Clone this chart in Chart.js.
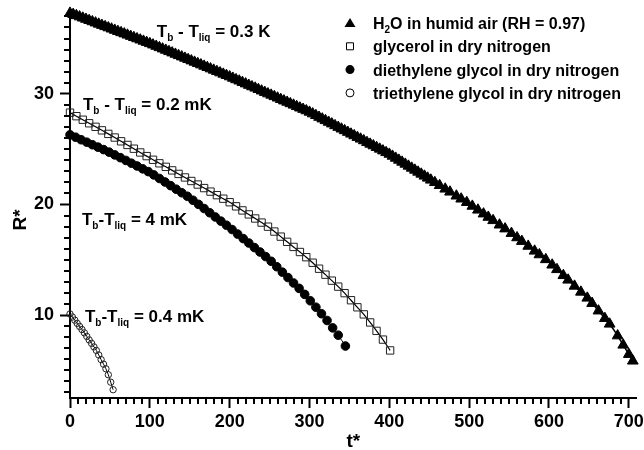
<!DOCTYPE html>
<html>
<head>
<meta charset="utf-8">
<script src="https://cdn.jsdelivr.net/npm/chart.js@4.4.1/dist/chart.umd.min.js"></script>
<style>
  html, body { margin: 0; padding: 0; background: #fff; }
</style>
</head>
<body>
<canvas id="myChart" width="644" height="450"></canvas>
<script>
// series names (legend)
const seriesNames = [
    "H_{2}O in humid air (RH = 0.97)",
    "glycerol in dry nitrogen",
    "diethylene glycol in dry nitrogen",
    "triethylene glycol in dry nitrogen",
];

// H2O in humid air
const h2oT = [0, 4, 8, 12, 16, 20, 24, 28, 32, 36, 40, 44, 48, 52, 56, 60, 64, 68, 72, 76, 80, 84, 88, 92, 96, 100,
    104, 108, 112, 116, 120, 124, 128, 132, 136, 140, 144, 148, 152, 156, 160, 164, 168, 172, 176, 180, 184, 188, 192, 196, 200,
    204, 208, 212, 216, 220, 224, 228, 232, 236, 240, 244, 248, 252, 256, 260, 264, 268, 272, 276, 280, 284, 288, 292, 296, 300,
    304, 308, 312, 316, 320, 324, 328, 332, 336, 340, 344, 348, 352, 356, 360, 364, 368, 372, 376, 380, 384, 388, 392, 396, 400,
    404, 408, 412, 416, 420, 424, 428, 432, 436, 440, 444, 448, 452,
    457, 463, 470, 476, 484, 490, 497, 504, 511, 518, 524, 530, 538, 545,
    553, 560, 566, 574, 582, 588, 596, 604, 610, 618, 624, 632, 640, 648,
    654, 662, 670, 676, 686, 693, 700, 705];
const h2oR = [37.30, 37.19, 37.08, 36.97, 36.86, 36.75, 36.64, 36.53, 36.42, 36.31, 36.20, 36.09, 35.98, 35.87, 35.76,
    35.65, 35.54, 35.43, 35.32, 35.21, 35.10, 34.99, 34.88, 34.77, 34.66, 34.55,
    34.43, 34.31, 34.19, 34.07, 33.95, 33.83, 33.71, 33.59, 33.47, 33.35, 33.23, 33.11, 32.99, 32.87, 32.75,
    32.63, 32.51, 32.39, 32.27, 32.15, 32.03, 31.91, 31.79, 31.67, 31.55,
    31.42, 31.29, 31.17, 31.04, 30.91, 30.78, 30.65, 30.53, 30.40, 30.27, 30.14, 30.01, 29.89, 29.76, 29.63,
    29.50, 29.37, 29.25, 29.12, 28.99, 28.86, 28.73, 28.61, 28.48, 28.35,
    28.20, 28.05, 27.89, 27.74, 27.59, 27.44, 27.29, 27.13, 26.98, 26.83, 26.68, 26.53, 26.37, 26.22, 26.07,
    25.92, 25.77, 25.61, 25.46, 25.31, 25.16, 25.01, 24.85, 24.70, 24.55,
    24.37, 24.19, 24.01, 23.83, 23.65, 23.47, 23.29, 23.11, 22.93, 22.75, 22.57, 22.39, 22.21,
    21.99, 21.72, 21.40, 21.13, 20.77, 20.50, 20.19, 19.85, 19.50, 19.15, 18.85, 18.55, 18.15, 17.80,
    17.39, 17.00, 16.67, 16.23, 15.79, 15.46, 15.02, 14.53, 14.12, 13.58, 13.17, 12.62, 12.08, 11.54,
    11.06, 10.38, 9.70, 9.19, 8.13, 7.29, 6.45, 5.85];

// glycerol in dry nitrogen
const glyT = [0, 8, 16, 24, 32, 40, 48, 56, 64, 72, 80, 88, 96, 104, 112, 120, 128, 136, 144, 152,
    160, 168, 176, 184, 192, 200, 208, 216, 224, 232, 240, 248, 256, 264, 272, 280, 288, 296,
    304, 312, 320, 328, 336, 344, 352, 360, 368, 376, 384, 392, 401];
const glyR = [28.30, 27.98, 27.66, 27.34, 27.02, 26.70, 26.38, 26.05, 25.71, 25.38, 25.04, 24.70, 24.37,
    24.04, 23.72, 23.40, 23.08, 22.76, 22.44, 22.12, 21.80, 21.48, 21.16, 20.84, 20.52, 20.20,
    19.83, 19.46, 19.10, 18.73, 18.36, 17.99, 17.55, 17.09, 16.62, 16.16, 15.70, 15.23,
    14.73, 14.19, 13.65, 13.11, 12.57, 11.98, 11.34, 10.70, 10.06, 9.33, 8.57, 7.78, 6.80];

// diethylene glycol in dry nitrogen
const degT = [0, 7, 14, 21, 28, 35, 42, 49, 56, 63, 70, 77, 84, 91, 98, 105, 112, 119, 126, 133,
    140, 147, 154, 161, 168, 175, 182, 189, 196, 203, 210, 217, 224, 231, 238, 245, 252, 259,
    266, 273, 280, 287, 294, 301, 308, 315, 322, 329, 336, 345];
const degR = [26.30, 26.08, 25.85, 25.63, 25.40, 25.18, 24.96, 24.73, 24.48, 24.23, 23.98, 23.73, 23.48,
    23.22, 22.97, 22.67, 22.35, 22.03, 21.70, 21.38, 21.06, 20.74, 20.38, 20.01, 19.63, 19.25,
    18.87, 18.49, 18.12, 17.73, 17.32, 16.91, 16.51, 16.10, 15.70, 15.29, 14.86, 14.37, 13.88,
    13.39, 12.90, 12.41, 11.87, 11.29, 10.71, 10.12, 9.51, 8.84, 8.18, 7.20];

// triethylene glycol in dry nitrogen
const tegT = [0, 3, 6, 9, 12, 15, 18, 21, 24, 27, 30, 33, 36, 39, 42, 45, 48, 51, 54];
const tegR = [10.10, 9.82, 9.54, 9.25, 8.97, 8.69, 8.39, 8.07, 7.75, 7.44, 7.12, 6.80, 6.39, 5.97,
    5.56, 5.14, 4.60, 3.93, 3.25];

// axis ticks
const xTicks = [0, 100, 200, 300, 400, 500, 600, 700];
const yTicks = [10, 20, 30];

// text labels in the plot, anchored at data coordinates (left / baseline)
const notes = [
    { text: "T_{b} - T_{liq} = 0.3 K", t: 108.75, r: 35.16 },
    { text: "T_{b} - T_{liq} = 0.2 mK", t: 16.25, r: 28.55 },
    { text: "T_{b}-T_{liq} = 4 mK", t: 15, r: 18.14 },
    { text: "T_{b}-T_{liq} = 0.4 mK", t: 18.75, r: 9.37 },
];

const FONT = '"Liberation Sans", Arial, Helvetica, sans-serif';

function toPoints(ts, rs) {
    return ts.map((t, i) => ({ x: t, y: rs[i] }));
}

// text with _{..} parts drawn as subscripts
function drawRich(ctx, str, x, y, size, subSize) {
    const parts = str.split(/_\{([^}]*)\}/);
    let cx = x;
    parts.forEach((p, i) => {
        const sub = i % 2 === 1;
        ctx.font = "bold " + (sub ? subSize : size) + "px " + FONT;
        ctx.fillText(p, cx, sub ? y + 4 : y);
        cx += ctx.measureText(p).width;
    });
}

function legendMarker(ctx, kind, x, y) {
    ctx.beginPath();
    if (kind === 0) {
        ctx.moveTo(x, y - 5);
        ctx.lineTo(x + 5.5, y + 4);
        ctx.lineTo(x - 5.5, y + 4);
        ctx.closePath();
        ctx.fill();
    } else if (kind === 1) {
        ctx.rect(x - 3.5, y - 3.5, 7, 7);
        ctx.stroke();
    } else if (kind === 2) {
        ctx.arc(x, y, 4.5, 0, Math.PI * 2);
        ctx.fill();
    } else {
        ctx.arc(x, y, 4, 0, Math.PI * 2);
        ctx.stroke();
    }
}

const extras = {
    id: "extras",
    afterDraw(chart) {
        const ctx = chart.ctx;
        const xs = chart.scales.x;
        const ys = chart.scales.y;
        const area = chart.chartArea;
        ctx.save();
        ctx.strokeStyle = "#000";
        ctx.fillStyle = "#000";

        // minor ticks
        ctx.lineWidth = 2;
        ctx.beginPath();
        for (let v = 10; v < 710; v += 10) {
            if (v % 100 === 0) continue;
            const px = Math.round(xs.getPixelForValue(v));
            ctx.moveTo(px, area.bottom);
            ctx.lineTo(px, area.bottom + 6);
        }
        for (let v = 3; v < 38; v++) {
            if (v % 10 === 0) continue;
            const py = Math.round(ys.getPixelForValue(v));
            ctx.moveTo(area.left, py);
            ctx.lineTo(area.left - 6, py);
        }
        ctx.stroke();

        // axis titles
        ctx.textAlign = "center";
        ctx.textBaseline = "alphabetic";
        ctx.font = "bold 19px " + FONT;
        ctx.fillText("t*", (area.left + area.right) / 2, 447);
        ctx.save();
        ctx.translate(26, 220);
        ctx.rotate(-Math.PI / 2);
        ctx.fillText("R*", 0, 0);
        ctx.restore();

        // notes
        ctx.textAlign = "left";
        notes.forEach((n) => {
            drawRich(ctx, n.text, xs.getPixelForValue(n.t), ys.getPixelForValue(n.r), 17, 10);
        });

        // legend
        ctx.lineWidth = 1;
        seriesNames.forEach((name, i) => {
            const base = 29 + i * 23.3;
            legendMarker(ctx, i, 350, base - 6);
            drawRich(ctx, name, 373, base, 16, 10);
        });
        ctx.restore();
    },
};

const tickFont = { family: FONT, size: 18, weight: "bold" };

const ctx = document.getElementById("myChart");
new Chart(ctx, {
    type: "scatter",
    data: {
        datasets: [
            {
                label: seriesNames[0],
                data: toPoints(h2oT, h2oR),
                showLine: true,
                borderColor: "#000",
                borderWidth: 1.5,
                pointStyle: "triangle",
                pointRadius: 6.2,
                pointBackgroundColor: "#000",
                pointBorderColor: "#000",
                pointBorderWidth: 1,
            },
            {
                label: seriesNames[1],
                data: toPoints(glyT, glyR),
                showLine: true,
                borderColor: "#000",
                borderWidth: 1.2,
                pointStyle: "rect",
                pointRadius: 5.2,
                pointBackgroundColor: "rgba(0,0,0,0)",
                pointBorderColor: "#222",
                pointBorderWidth: 1,
            },
            {
                label: seriesNames[2],
                data: toPoints(degT, degR),
                showLine: true,
                borderColor: "#000",
                borderWidth: 1,
                pointStyle: "circle",
                pointRadius: 4.3,
                pointBackgroundColor: "#000",
                pointBorderColor: "#000",
                pointBorderWidth: 1,
            },
            {
                label: seriesNames[3],
                data: toPoints(tegT, tegR),
                showLine: true,
                borderColor: "#000",
                borderWidth: 1,
                pointStyle: "circle",
                pointRadius: 3.2,
                pointBackgroundColor: "rgba(0,0,0,0)",
                pointBorderColor: "#222",
                pointBorderWidth: 1,
            },
        ].map((d) => Object.assign(d, { cubicInterpolationMode: "monotone", clip: false })),
    },
    options: {
        responsive: false,
        animation: false,
        layout: { padding: { left: 0, top: 12, right: 6, bottom: 0 } },
        plugins: {
            legend: { display: false },
            tooltip: { enabled: false },
        },
        scales: {
            x: {
                type: "linear",
                min: 0,
                max: 710,
                afterBuildTicks: (s) => {
                    s.ticks = xTicks.map((v) => ({ value: v }));
                },
                afterFit: (s) => {
                    s.height = 52;
                    s.paddingLeft = 0;
                    s.paddingRight = 0;
                },
                grid: {
                    drawOnChartArea: false,
                    drawTicks: true,
                    tickLength: 10,
                    tickWidth: 2,
                    tickColor: "#000",
                },
                border: { display: true, color: "#000", width: 2 },
                ticks: { font: tickFont, color: "#000", padding: 3, maxRotation: 0, autoSkip: false },
            },
            y: {
                type: "linear",
                min: 2.5,
                max: 37.4,
                afterBuildTicks: (s) => {
                    s.ticks = yTicks.map((v) => ({ value: v }));
                },
                afterFit: (s) => {
                    s.width = 70;
                    s.paddingTop = 0;
                    s.paddingBottom = 0;
                },
                grid: {
                    drawOnChartArea: false,
                    drawTicks: true,
                    tickLength: 10,
                    tickWidth: 2,
                    tickColor: "#000",
                },
                border: { display: true, color: "#000", width: 2 },
                ticks: { font: tickFont, color: "#000", padding: 6, autoSkip: false },
            },
        },
    },
    plugins: [extras],
});
</script>
</body>
</html>
